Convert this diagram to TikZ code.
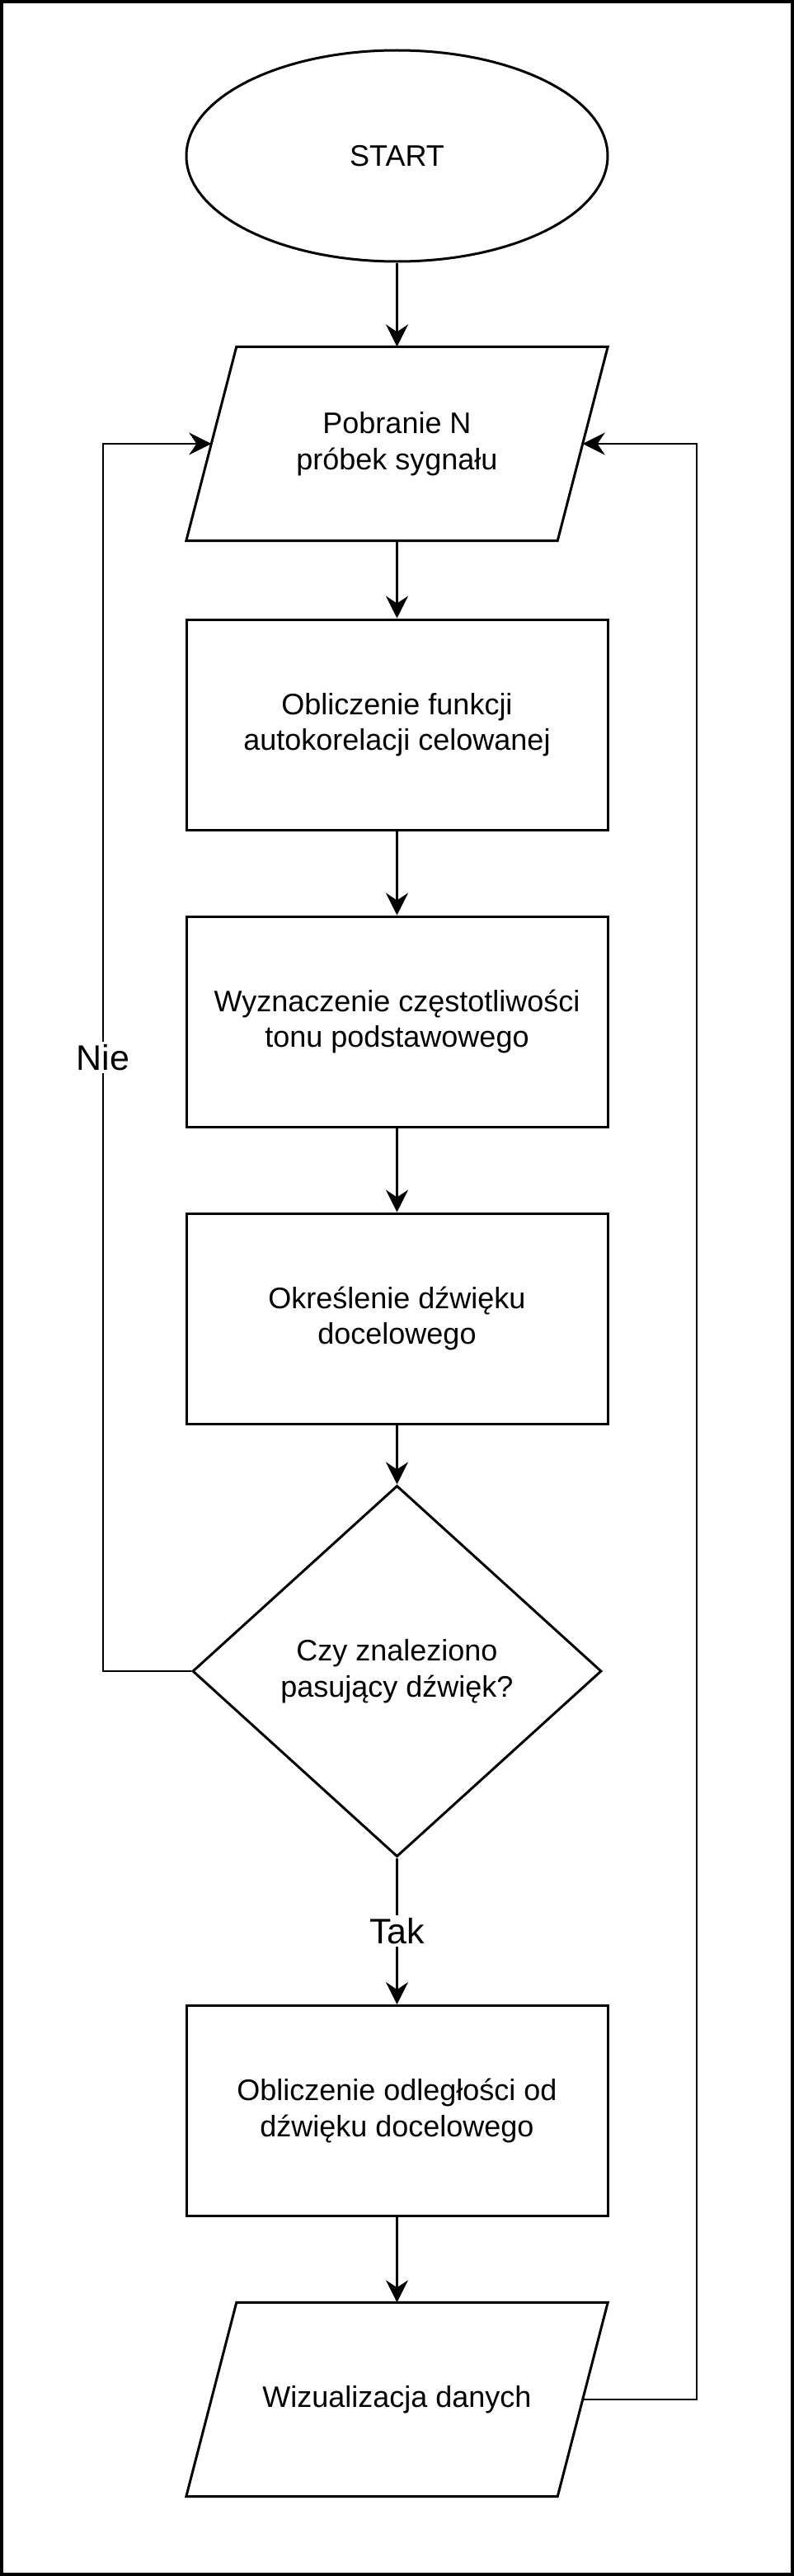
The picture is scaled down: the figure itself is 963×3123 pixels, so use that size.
\documentclass[tikz,border=0pt]{standalone}
\usepackage{fontspec}
\setmainfont{Liberation Sans}
\usetikzlibrary{shapes.geometric,arrows.meta}
\begin{document}
\begin{tikzpicture}[x=1pt,y=-1pt,
  txt/.style={align=center,font=\fontsize{36pt}{43.5pt}\selectfont},
  shp/.style={draw,line width=3pt,inner sep=0pt,txt},
  box/.style={shp,rectangle,minimum width=511pt,minimum height=255pt},
  startel/.style={shp,ellipse,minimum width=511pt,minimum height=256pt},
  io/.style={rectangle,inner sep=0pt,txt,minimum width=450pt,minimum height=235pt},
  iofrm/.style={line width=3pt,line join=miter},
  dec/.style={shp,diamond,minimum width=496pt,minimum height=450pt},
  conn/.style={line width=2.4pt,-{Stealth[length=27pt,width=27pt,inset=9pt]}},
  lbl/.style={fill=white,inner sep=3pt,font=\fontsize{43pt}{50pt}\selectfont}]
\useasboundingbox (0,0) rectangle (963,3123);
\draw[line width=4pt] (2,2) rectangle (961,3121);
\node[startel] (start) at (481.5,189) {START};
\node[io] (p1) at (481.5,538) {Pobranie N\\próbek sygnału};
\draw[iofrm] ([xshift=30.5pt]p1.north west) -- ([xshift=30.5pt]p1.north east)
  -- ([xshift=-30.5pt]p1.south east) -- ([xshift=-30.5pt]p1.south west) -- cycle;
\node[box] (r1) at (481.5,878.5) {Obliczenie funkcji\\autokorelacji celowanej};
\node[box] (r2) at (481.5,1238.5) {Wyznaczenie częstotliwości\\tonu podstawowego};
\node[box] (r3) at (481.5,1598.5) {Określenie dźwięku\\docelowego};
\node[dec] (d) at (481.5,2026) {Czy znaleziono\\pasujący dźwięk?};
\node[box] (r4) at (481.5,2559) {Obliczenie odległości od\\dźwięku docelowego};
\node[io] (p2) at (481.5,2909) {Wizualizacja danych};
\draw[iofrm] ([xshift=30.5pt]p2.north west) -- ([xshift=30.5pt]p2.north east)
  -- ([xshift=-30.5pt]p2.south east) -- ([xshift=-30.5pt]p2.south west) -- cycle;
\coordinate (lc) at (125,0);
\coordinate (rc) at (845,0);
\draw[conn] (start) -- (p1);
\draw[conn] (p1) -- (r1);
\draw[conn] (r1) -- (r2);
\draw[conn] (r2) -- (r3);
\draw[conn] (r3) -- (d);
\draw[conn] (d) -- node[lbl]{Tak} (r4);
\draw[conn] (r4) -- (p2);
\draw[conn] (d.west) -- (d.west -| lc) -- node[lbl]{Nie} (lc |- p1) -- (p1.west);
\draw[conn] (p2.east) -- (p2.east -| rc) -- (rc |- p1) -- (p1.east);
\end{tikzpicture}
\end{document}
